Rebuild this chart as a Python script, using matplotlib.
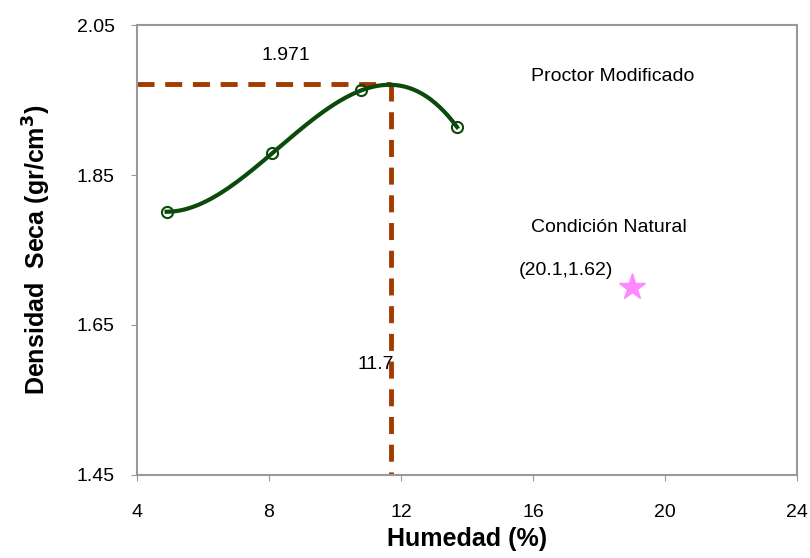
import numpy as np
import matplotlib.pyplot as plt

plt.rcParams['font.family'] = ['Liberation Sans', 'DejaVu Sans']

# Proctor modificado (humedad %, densidad seca)
humedad = [4.9, 8.1, 10.8, 13.7]
densidad = [1.801, 1.879, 1.963, 1.914]

# optimo
w_opt = 11.7
d_opt = 1.971

# condicion natural (marker position as drawn)
nat_x = [19.0]
nat_y = [1.70]

fig = plt.figure(figsize=(8.1, 5.58), dpi=100)
ax = fig.add_axes([0.169, 0.149, 0.815, 0.806])

# smooth curve through the measured points (cubic through 4 points)
coef = np.polyfit(humedad, densidad, 3)
xs = np.linspace(humedad[0], humedad[-1], 200)
ax.plot(xs, np.polyval(coef, xs), color='#0b4a0b', lw=3, zorder=3)
ax.plot(humedad, densidad, 'o', ms=8, mfc='none', mec='#0b4a0b', mew=1.5, zorder=4)

dash_col = '#a33a00'
ax.plot([4, w_opt], [d_opt, d_opt], color=dash_col, lw=3.5, ls=(0, (3.5, 2.2)), zorder=2)
ax.plot([w_opt, w_opt], [d_opt, 1.45], color=dash_col, lw=3.5, ls=(0, (3.5, 2.2)), zorder=2)

ax.plot(nat_x, nat_y, '*', ms=20, color='#ff88ff', mec='#ff88ff')

fs = 14
ax.text(8.5, 2.01, f'{d_opt:.3f}', fontsize=fs, ha='center', va='center')
ax.text(11.8, 1.597, f'{w_opt}', fontsize=fs, ha='right', va='center')
ax.text(18.4, 1.981, 'Proctor Modificado', fontsize=fs, ha='center', va='center')
ax.text(18.3, 1.780, 'Condición Natural', fontsize=fs, ha='center', va='center')
ax.text(17.0, 1.723, '(20.1,1.62)', fontsize=fs, ha='center', va='center')

ax.set_xlim(4, 24)
ax.set_ylim(1.45, 2.05)
ax.set_xticks([4, 8, 12, 16, 20, 24])
ax.set_yticks([1.45, 1.65, 1.85, 2.05])
ax.set_yticklabels(['1.45', '1.65', '1.85', '2.05'])
ax.tick_params(labelsize=fs, length=4, color='#999999')
ax.tick_params(axis='x', pad=17)
ax.tick_params(axis='y', pad=12)
for s in ax.spines.values():
    s.set_color('#999999')
    s.set_linewidth(1.5)

ax.set_xlabel('Humedad (%)', fontsize=18, fontweight='bold')
ax.set_ylabel(r'Densidad  Seca (gr/cm$^{\mathbf{3}}$)', fontsize=18, fontweight='bold')
ax.xaxis.set_label_coords(0.5, -0.116)
ax.yaxis.set_label_coords(-0.127, 0.5)

fig.savefig('out.png', dpi=100)
